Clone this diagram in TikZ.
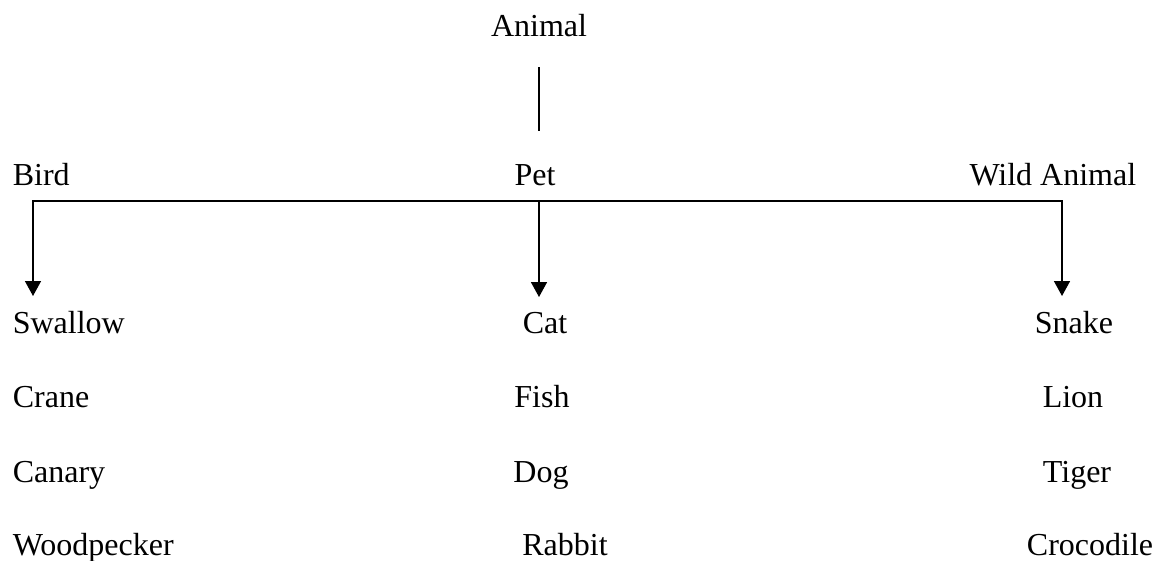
\documentclass[tikz,border=0pt]{standalone}
\usepackage{fontspec}
\setmainfont{Liberation Serif}
\usetikzlibrary{arrows.meta}
\tikzset{
	lbl/.style={inner sep=0pt, font=\fontsize{32}{37}\selectfont},
	head/.tip={Triangle[length=15pt,width=16pt]},
}
\begin{document}
\begin{tikzpicture}[x=1pt,y=-1pt,line width=1.6pt]
	\useasboundingbox (0,0) rectangle (1157,560);
	% top of the tree
	\node[lbl,anchor=base] (animal) at (539,36) {Animal};
	\node[lbl,anchor=base west] (bird) at (12,185) {Bird};
	\node[lbl,anchor=base] (pet) at (535,185) {Pet};
	\node[lbl,anchor=base east] (wild) at (1137,185) {Wild Animal};
	% bird column
	\node[lbl,anchor=base west] (swallow) at (12,333) {Swallow};
	\node[lbl,anchor=base west] (crane) at (12,407) {Crane};
	\node[lbl,anchor=base west] (canary) at (12,482) {Canary};
	\node[lbl,anchor=base west] (woodpecker) at (12,555) {Woodpecker};
	% pet column
	\node[lbl,anchor=base] (cat) at (545,333) {Cat};
	\node[lbl,anchor=base] (fish) at (542,407) {Fish};
	\node[lbl,anchor=base] (dog) at (541,482) {Dog};
	\node[lbl,anchor=base] (rabbit) at (565,555) {Rabbit};
	% wild animal column
	\node[lbl,anchor=base] (snake) at (1074,333) {Snake};
	\node[lbl,anchor=base] (lion) at (1073,407) {Lion};
	\node[lbl,anchor=base] (tiger) at (1077,482) {Tiger};
	\node[lbl,anchor=base] (crocodile) at (1090,555) {Crocodile};
	% connectors
	\coordinate (busw) at (33,201);
	\coordinate (busm) at (539,201);
	\coordinate (buse) at (1062,201);
	\draw[shorten <=30pt,shorten >=32pt] (animal.south) -- (animal.south |- pet.north);
	\draw[head-head,shorten <=14pt,shorten >=14pt] (busw |- swallow.north) -- (busw) -- (buse) -- (buse |- snake.north);
	\draw[-head,shorten >=14pt] (busm) -- (busm |- cat.north);
\end{tikzpicture}
\end{document}
